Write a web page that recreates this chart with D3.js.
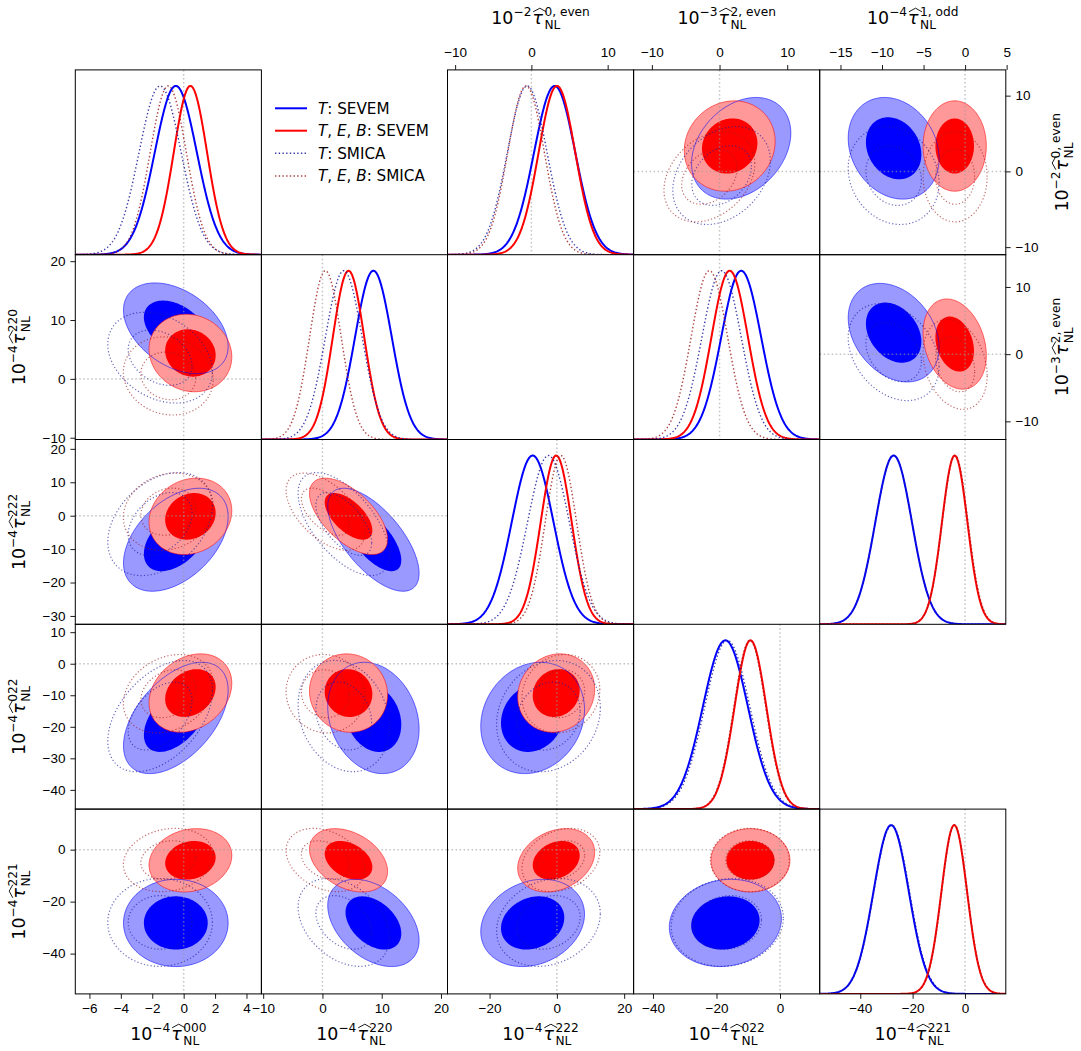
<!DOCTYPE html>
<html>
<head>
<meta charset="utf-8">
<script src="https://cdn.jsdelivr.net/npm/d3@7"></script>
<style>
	body { margin: 0; background: #fff; }
	svg { font-family: "DejaVu Sans", sans-serif; }
</style>
</head>
<body>
<div id="chart"></div>
<script>
/* global d3 */

// lower triangle: 10^-4 tau_NL^{l1 l2 L}
const lowNames = ["000", "220", "222", "022", "221"];
const lowDomain = [[-6.9, 4.95], [-10.3, 21.1], [-32.5, 22.8], [-46.1, 12.5], [-55.5, 15.6]];
const lowBottomTicks = [[-6, -4, -2, 0, 2, 4], [-10, 0, 10, 20], [-20, 0, 20], [-40, -20, 0], [-40, -20, 0]];
const lowLeftTicks = [null, [-10, 0, 10, 20], [-30, -20, -10, 0, 10, 20], [-40, -30, -20, -10, 0, 10], [-40, -20, 0]];

// upper triangle: tau_NL^{L, parity}
const upNames = ["0, even", "2, even", "1, odd"];
const upExp = [2, 3, 4];
const upDomain = [[-11, 13.4], [-12.7, 14.8], [-17.5, 4.9]];
const upTopTicks = [[-10, 0, 10], [-10, 0, 10], [-15, -10, -5, 0, 5]];
const upRightTicks = [[-10, 0, 10], [-10, 0, 10]];

// posterior means / widths
const lowMeanTSevem = [-0.5, 8.6, -7.2, -17.2, -28.2];
const lowSigTSevem = [1.34, 3.1, 6.2, 7.1, 6.75];
const lowMeanTebSevem = [0.43, 4.4, -0.2, -9.3, -4.1];
const lowSigTebSevem = [1.06, 2.65, 4.6, 5.0, 4.9];
const lowMeanTSmica = [-1.5, 3.6, -2.5, -16.6, -28.0];
const lowSigTSmica = [1.34, 3.1, 6.2, 7.1, 6.8];
const lowMeanTebSmica = [-0.98, 0.5, 1.2, -9.5, -4.0];
const lowSigTebSmica = [1.15, 2.67, 4.65, 5.0, 4.9];

const lowPairs = [[0, 1], [0, 2], [0, 3], [0, 4], [1, 2], [1, 3], [1, 4], [2, 3], [2, 4], [3, 4]];
const lowCorrTSevem = [-0.4, 0.45, 0.5, 0.0, -0.65, -0.2, -0.4, 0.15, 0.2, 0.1];
const lowCorrTebSevem = [-0.1, 0.15, 0.25, 0.15, -0.6, -0.05, -0.35, 0.1, 0.25, 0.0];
const lowCorrTSmica = [-0.3, 0.35, 0.45, 0.0, -0.6, -0.2, -0.35, 0.15, 0.2, 0.1];
const lowCorrTebSmica = [-0.1, 0.15, 0.25, 0.15, -0.55, -0.05, -0.3, 0.1, 0.25, 0.0];

const upMeanTSevem = [3.05, 3.2, -8.6];
const upSigTSevem = [2.7, 2.95, 2.2];
const upMeanTebSevem = [3.35, 1.5, -1.25];
const upSigTebSevem = [2.4, 2.7, 1.53];
const upMeanTSmica = [-0.55, 0.3, -8.6];
const upSigTSmica = [2.6, 2.9, 2.2];
const upMeanTebSmica = [-0.7, -1.5, -1.2];
const upSigTebSmica = [2.4, 2.7, 1.55];

const upPairs = [[0, 1], [0, 2], [1, 2]];
const upCorrTSevem = [0.3, -0.2, -0.3];
const upCorrTebSevem = [0.1, 0.0, -0.25];
const upCorrTSmica = [0.3, -0.15, -0.3];
const upCorrTebSmica = [0.3, 0.0, -0.25];

const series = [
	{ label: [["T", 1], [": SEVEM", 0]], color: "#0000ff", fill: "#9999ff", dotted: false,
		low: { mu: lowMeanTSevem, sd: lowSigTSevem, rho: lowCorrTSevem },
		up: { mu: upMeanTSevem, sd: upSigTSevem, rho: upCorrTSevem } },
	{ label: [["T", 1], [", ", 0], ["E", 1], [", ", 0], ["B", 1], [": SEVEM", 0]], color: "#ff0000", fill: "#ff9999", dotted: false,
		low: { mu: lowMeanTebSevem, sd: lowSigTebSevem, rho: lowCorrTebSevem },
		up: { mu: upMeanTebSevem, sd: upSigTebSevem, rho: upCorrTebSevem } },
	{ label: [["T", 1], [": SMICA", 0]], color: "#1a1a9c", dotted: true,
		low: { mu: lowMeanTSmica, sd: lowSigTSmica, rho: lowCorrTSmica },
		up: { mu: upMeanTSmica, sd: upSigTSmica, rho: upCorrTSmica } },
	{ label: [["T", 1], [", ", 0], ["E", 1], [", ", 0], ["B", 1], [": SMICA", 0]], color: "#a01c1c", dotted: true,
		low: { mu: lowMeanTebSmica, sd: lowSigTebSmica, rho: lowCorrTebSmica },
		up: { mu: upMeanTebSmica, sd: upSigTebSmica, rho: upCorrTebSmica } },
];

const X0 = 75.3;
const Y0 = 69.9;
const W = 186.1;
const H = 184.8;
const K1 = Math.sqrt(2.3);
const K2 = Math.sqrt(6.18);
const TICK_FONT = 13.5;

const cellX = (c) => X0 + c * W;
const cellY = (r) => Y0 + r * H;

const svg = d3.select("#chart").append("svg").attr("width", 1081).attr("height", 1051);
const defs = svg.append("defs");
const plot = svg.append("g");
const frames = svg.append("g");

const clipFor = (r, c) => {
	const id = `clip-${r}-${c}`;
	defs.append("clipPath").attr("id", id)
		.append("rect").attr("x", cellX(c)).attr("y", cellY(r)).attr("width", W).attr("height", H);
	frames.append("rect")
		.attr("x", cellX(c)).attr("y", cellY(r)).attr("width", W).attr("height", H)
		.attr("fill", "none").attr("stroke", "#000").attr("stroke-width", 1);
	return plot.append("g").attr("clip-path", `url(#${id})`);
};

const zeroLine = (g, x1, y1, x2, y2) => {
	g.append("line")
		.attr("x1", x1).attr("y1", y1).attr("x2", x2).attr("y2", y2)
		.attr("stroke", "#999").attr("stroke-opacity", 0.6)
		.attr("stroke-width", 1.5).attr("stroke-dasharray", "1.5,2.5");
};

const draw1D = (r, c, dom, pick) => {
	const g = clipFor(r, c);
	const x = d3.scaleLinear().domain(dom).range([cellX(c), cellX(c) + W]);
	const y = d3.scaleLinear().domain([0, 1.095]).range([cellY(r) + H, cellY(r)]);
	zeroLine(g, x(0), cellY(r), x(0), cellY(r) + H);
	const xs = d3.range(301).map((k) => dom[0] + ((dom[1] - dom[0]) * k) / 300);
	series.forEach((s) => {
		const { mu, sd } = pick(s);
		const line = d3.line()
			.x((v) => x(v))
			.y((v) => y(Math.exp(-0.5 * ((v - mu) / sd) ** 2)));
		g.append("path")
			.datum(xs)
			.attr("d", line)
			.attr("fill", "none")
			.attr("stroke", s.color)
			.attr("stroke-width", s.dotted ? 1.4 : 2)
			.attr("stroke-opacity", s.dotted ? 0.85 : 1)
			.attr("stroke-dasharray", s.dotted ? "1.4,2.3" : null);
	});
};

const ellipse = (p, k) =>
	d3.range(160).map((i) => {
		const t = (2 * Math.PI * i) / 160;
		return [
			p.mx + k * p.sx * Math.cos(t),
			p.my + k * p.sy * (p.rho * Math.cos(t) + Math.sqrt(1 - p.rho * p.rho) * Math.sin(t)),
		];
	});

const draw2D = (r, c, xdom, ydom, pick) => {
	const g = clipFor(r, c);
	const x = d3.scaleLinear().domain(xdom).range([cellX(c), cellX(c) + W]);
	const y = d3.scaleLinear().domain(ydom).range([cellY(r) + H, cellY(r)]);
	const path = d3.line().x((d) => x(d[0])).y((d) => y(d[1])).curve(d3.curveLinearClosed);

	const filled = series.filter((s) => !s.dotted);
	filled.forEach((s) => {
		const p = pick(s);
		g.append("path").attr("d", path(ellipse(p, K2))).attr("fill", s.fill);
		g.append("path").attr("d", path(ellipse(p, K1))).attr("fill", s.color);
	});
	filled.forEach((s) => {
		g.append("path").attr("d", path(ellipse(pick(s), K2)))
			.attr("fill", "none").attr("stroke", s.color)
			.attr("stroke-opacity", 0.55).attr("stroke-width", 1);
	});
	series.filter((s) => s.dotted).forEach((s) => {
		const p = pick(s);
		[K1, K2].forEach((k) => {
			g.append("path").attr("d", path(ellipse(p, k)))
				.attr("fill", "none").attr("stroke", s.color)
				.attr("stroke-opacity", 0.65).attr("stroke-width", 1.2)
				.attr("stroke-dasharray", "1.2,2.2");
		});
	});
	zeroLine(g, x(0), cellY(r), x(0), cellY(r) + H);
	zeroLine(g, cellX(c), y(0), cellX(c) + W, y(0));
};

const pairIndex = (pairs, i, j) => pairs.findIndex((p) => p[0] === i && p[1] === j);

// lower triangle
for (let r = 0; r < 5; r += 1) {
	for (let c = 0; c <= r; c += 1) {
		if (r === c) {
			draw1D(r, c, lowDomain[r], (s) => ({ mu: s.low.mu[r], sd: s.low.sd[r] }));
		} else {
			const k = pairIndex(lowPairs, c, r);
			draw2D(r, c, lowDomain[c], lowDomain[r], (s) => ({
				mx: s.low.mu[c], my: s.low.mu[r], sx: s.low.sd[c], sy: s.low.sd[r], rho: s.low.rho[k],
			}));
		}
	}
}

// upper triangle
for (let i = 0; i < 3; i += 1) {
	for (let j = i; j < 3; j += 1) {
		if (i === j) {
			draw1D(i, j + 2, upDomain[i], (s) => ({ mu: s.up.mu[i], sd: s.up.sd[i] }));
		} else {
			const k = pairIndex(upPairs, i, j);
			draw2D(i, j + 2, upDomain[j], upDomain[i], (s) => ({
				mx: s.up.mu[j], my: s.up.mu[i], sx: s.up.sd[j], sy: s.up.sd[i], rho: s.up.rho[k],
			}));
		}
	}
}

// Axes
const styleAxis = (g) => {
	g.select(".domain").remove();
	g.selectAll("text").style("font-size", `${TICK_FONT}px`).attr("fill", "#000");
	g.selectAll("line").attr("stroke", "#000").attr("stroke-width", 0.9);
};
const fmt = d3.format("d");

lowDomain.forEach((dom, c) => {
	const x = d3.scaleLinear().domain(dom).range([cellX(c), cellX(c) + W]);
	svg.append("g")
		.attr("transform", `translate(0,${cellY(5)})`)
		.call(d3.axisBottom(x).tickValues(lowBottomTicks[c]).tickFormat(fmt).tickSize(4.9).tickPadding(4.9))
		.call(styleAxis);
	if (c > 0) {
		const y = d3.scaleLinear().domain(dom).range([cellY(c) + H, cellY(c)]);
		svg.append("g")
			.attr("transform", `translate(${X0},0)`)
			.call(d3.axisLeft(y).tickValues(lowLeftTicks[c]).tickFormat(fmt).tickSize(4.9).tickPadding(4.9))
			.call(styleAxis);
	}
});

upDomain.forEach((dom, j) => {
	const x = d3.scaleLinear().domain(dom).range([cellX(j + 2), cellX(j + 2) + W]);
	svg.append("g")
		.attr("transform", `translate(0,${Y0})`)
		.call(d3.axisTop(x).tickValues(upTopTicks[j]).tickFormat(fmt).tickSize(4.9).tickPadding(8.2))
		.call(styleAxis);
	if (j < 2) {
		const y = d3.scaleLinear().domain(dom).range([cellY(j) + H, cellY(j)]);
		svg.append("g")
			.attr("transform", `translate(${cellX(5)},0)`)
			.call(d3.axisRight(y).tickValues(upRightTicks[j]).tickFormat(fmt).tickSize(4.9).tickPadding(4.9))
			.call(styleAxis);
	}
});

// 10^{-n} \hat\tau^{sup}_{NL}
const mathLabel = (g, exp, sup) => {
	const big = 17.4;
	const small = 12.2;
	let x = 0;
	const add = (txt, size, dy, italic) => {
		const t = g.append("text").attr("x", x).attr("y", dy).style("font-size", `${size}px`).text(txt);
		if (italic) t.style("font-style", "italic");
		return t.node().getComputedTextLength();
	};
	x += add("10", big, 0);
	x += add(`\u2212${exp}`, small, -7.8) + 1;
	const tw = add("\u03c4", big, 0, true);
	g.append("path")
		.attr("d", `M${x + 0.8},-12.2 L${x + tw / 2 + 2.2},-15.8 L${x + tw + 3.4},-12.2`)
		.attr("fill", "none").attr("stroke", "#000").attr("stroke-width", 0.9);
	x += tw + 1.5;
	const w1 = add(sup, small, -8.3);
	const w2 = add("NL", small, 5.4);
	return x + Math.max(w1, w2);
};

const placeLabel = (transform, exp, sup) => {
	const g = svg.append("g").attr("transform", transform);
	const inner = g.append("g");
	const w = mathLabel(inner, exp, sup);
	inner.attr("transform", `translate(${-w / 2},0)`);
};

lowNames.forEach((name, k) => {
	placeLabel(`translate(${cellX(k) + W / 2},1040)`, 4, name);
	if (k > 0) placeLabel(`translate(25,${cellY(k) + H / 2}) rotate(-90)`, 4, name);
});
upNames.forEach((name, k) => {
	placeLabel(`translate(${cellX(k + 2) + W / 2},24)`, upExp[k], name);
	if (k < 2) placeLabel(`translate(1068,${cellY(k) + H / 2}) rotate(-90)`, upExp[k], name);
});

// Legend
const legendY = [108.3, 130.7, 153.3, 176];
const legend = svg.append("g");
series.forEach((s, i) => {
	legend.append("line")
		.attr("x1", 275).attr("x2", 307).attr("y1", legendY[i]).attr("y2", legendY[i])
		.attr("stroke", s.color)
		.attr("stroke-width", s.dotted ? 1.4 : 2)
		.attr("stroke-opacity", s.dotted ? 0.85 : 1)
		.attr("stroke-dasharray", s.dotted ? "1.4,2.3" : null);
	const t = legend.append("text")
		.attr("x", 318).attr("y", legendY[i]).attr("dy", "0.36em")
		.style("font-size", "15.2px");
	s.label.forEach(([txt, it]) => {
		t.append("tspan").style("font-style", it ? "italic" : "normal").text(txt);
	});
});
</script>
</body>
</html>
